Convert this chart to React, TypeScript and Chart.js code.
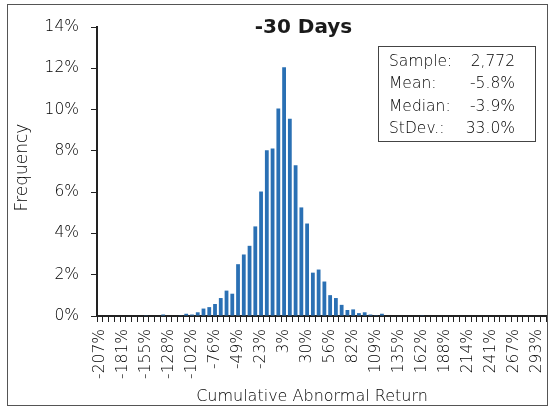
import React, { useEffect, useRef } from 'react';
import { Chart, registerables } from 'chart.js';

Chart.register(...registerables);

const chartTitle = '-30 Days';
const xAxisTitle = 'Cumulative Abnormal Return';
const yAxisTitle = 'Frequency';

// x-axis tick labels, one for every fourth bin
const tickLabels = [
  '-207%', '-181%', '-155%', '-128%', '-102%', '-76%', '-49%', '-23%', '3%', '30%',
  '56%', '82%', '109%', '135%', '162%', '188%', '214%', '241%', '267%', '293%',
];

// frequency (%) of each bin, left to right
const frequency = [
  0, 0, 0, 0, 0, 0, 0, 0,
  0.036, 0, 0, 0.072, 0, 0, 0.036, 0.108, 0.072, 0.18,
  0.36, 0.43, 0.58, 0.87, 1.23, 1.08, 2.51, 2.98, 3.40, 4.34,
  6.03, 8.03, 8.12, 10.05, 12.05, 9.55, 7.30, 5.26, 4.48, 2.10,
  2.25, 1.67, 1.01, 0.87, 0.54, 0.29, 0.32, 0.14, 0.18, 0.07,
  0.04, 0.11,
  0, 0, 0, 0, 0, 0,
  0.036,
  0, 0, 0, 0, 0, 0, 0, 0, 0, 0, 0, 0, 0, 0, 0, 0, 0, 0, 0, 0, 0,
];

const statNames = ['Sample:', 'Mean:', 'Median:', 'StDev.:'];
const statValues = ['2,772', '-5.8%', '-3.9%', '33.0%'];

const yMax = 14;
const yStep = 2;

const FONT = "'DejaVu Sans', sans-serif";
const TEXT = '#000';
const W = '200';

const decorPlugin = {
  id: 'decor',
  afterDraw(chart: any) {
    const ctx = chart.ctx as CanvasRenderingContext2D;
    ctx.save();
    // outer frame
    ctx.strokeStyle = '#555';
    ctx.lineWidth = 1;
    ctx.strokeRect(7.5, 4.5, 540, 401);

    // title
    ctx.fillStyle = '#1a1a1a';
    ctx.font = `bold 20px ${FONT}`;
    ctx.textAlign = 'center';
    ctx.textBaseline = 'alphabetic';
    ctx.fillText(chartTitle, 303.5, 33);

    // x axis title
    ctx.fillStyle = TEXT;
    ctx.font = `${W} 16px ${FONT}`;
    ctx.fillText(xAxisTitle, 312, 401);

    // y axis title
    ctx.save();
    ctx.translate(23, 167.5);
    ctx.rotate(-Math.PI / 2);
    ctx.textBaseline = 'middle';
    ctx.font = `${W} 17px ${FONT}`;
    ctx.fillText(yAxisTitle, 0, 0);
    ctx.restore();

    // stats box
    ctx.strokeStyle = '#444';
    ctx.strokeRect(378.5, 46.5, 157, 95);
    ctx.font = `${W} 15.5px ${FONT}`;
    ctx.textBaseline = 'alphabetic';
    statNames.forEach((n, i) => {
      const y = 65.5 + i * 22.5;
      ctx.textAlign = 'left';
      ctx.fillText(n, 389, y);
      ctx.textAlign = 'right';
      ctx.fillText(statValues[i], 515, y);
    });
    ctx.restore();
  },
};

export default function App() {
  const ref = useRef<HTMLCanvasElement | null>(null);

  useEffect(() => {
    if (!ref.current) return;
    const labels = frequency.map((_, i) => (i % 4 === 0 ? tickLabels[i / 4] ?? '' : ''));
    const chart = new Chart(ref.current, {
      type: 'bar',
      data: {
        labels,
        datasets: [
          {
            data: frequency,
            backgroundColor: '#2a70b4',
            barPercentage: 0.66,
            categoryPercentage: 1,
          },
        ],
      },
      options: {
        responsive: false,
        animation: false,
        devicePixelRatio: 1,
        layout: { padding: { top: 27, right: 3, left: 0, bottom: 0 } },
        plugins: {
          legend: { display: false },
          tooltip: { enabled: false },
          title: { display: false },
        },
        scales: {
          x: {
            grid: {
              display: true,
              drawOnChartArea: false,
              drawTicks: true,
              tickLength: 6,
              color: '#222',
              lineWidth: 1,
              offset: true,
            },
            border: { display: true, color: '#222', width: 2 },
            ticks: {
              autoSkip: false,
              maxRotation: 90,
              minRotation: 90,
              padding: 7,
              color: TEXT,
              font: { family: FONT, size: 15.5, weight: W as any },
            },
            afterFit: (s: any) => {
              s.height = 92;
              s.paddingLeft = 0;
              s.paddingRight = 0;
            },
          },
          y: {
            min: 0,
            max: yMax,
            grid: {
              display: true,
              drawOnChartArea: false,
              drawTicks: true,
              tickLength: 6,
              color: '#222',
              lineWidth: 1,
            },
            border: { display: true, color: '#222', width: 2 },
            ticks: {
              stepSize: yStep,
              padding: 12,
              color: TEXT,
              font: { family: FONT, size: 15.5, weight: W as any },
              callback: (v: any) => `${v}%`,
            },
            afterFit: (s: any) => {
              s.width = 97;
              s.paddingTop = 0;
              s.paddingBottom = 0;
            },
          },
        },
      },
      plugins: [decorPlugin],
    });
    return () => chart.destroy();
  }, []);

  return (
    <div style={{ position: 'absolute', left: 0, top: 0, width: 549, height: 408, background: '#fff' }}>
      <canvas ref={ref} width={549} height={408} style={{ display: 'block' }} />
    </div>
  );
}
